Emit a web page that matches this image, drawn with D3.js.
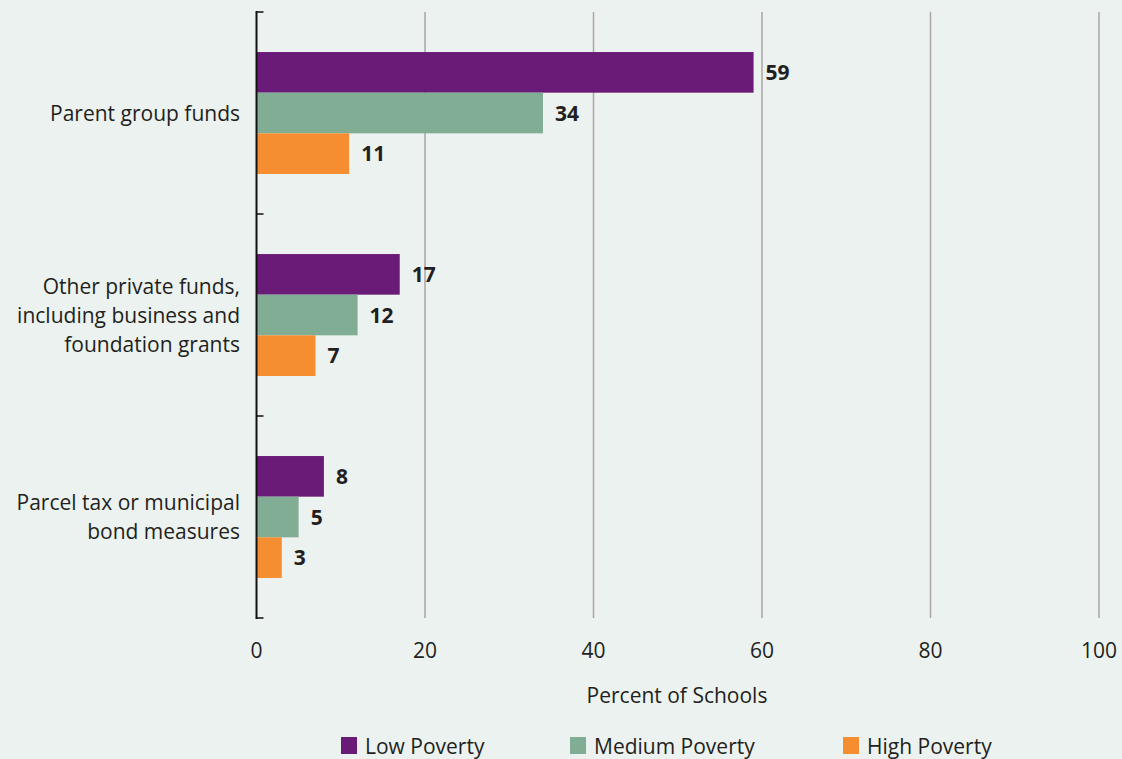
<!DOCTYPE html>
<html><head><meta charset="utf-8">
<script src="https://cdn.jsdelivr.net/npm/d3@7"></script>
<style>
html,body{margin:0;padding:0;background:#ecf2ef;}
svg{display:block;font-family:"Open Sans","Noto Sans",sans-serif;}
</style></head>
<body><svg id="c" width="1122" height="759"></svg>
<script>
const categories = [["Parent group funds"], ["Other private funds,","including business and","foundation grants"], ["Parcel tax or municipal","bond measures"]];
const seriesNames = ["Low Poverty", "Medium Poverty", "High Poverty"];
const lowPoverty = [59, 17, 8];
const mediumPoverty = [34, 12, 5];
const highPoverty = [11, 7, 3];
const xTicks = [0, 20, 40, 60, 80, 100];
const colors = ["#6a1b77", "#80ad94", "#f58d31"];

const series = [lowPoverty, mediumPoverty, highPoverty];
const svg = d3.select("#c");
const FS = 21;
const m = {left: 256.5, right: 1099, top: 12, bottom: 618};
const x = d3.scaleLinear().domain([0, 100]).range([m.left, m.right]);
const y = d3.scaleBand().domain(d3.range(categories.length)).range([m.top, m.bottom]).paddingInner(0).paddingOuter(0);
const inner = d3.scaleBand().domain(d3.range(series.length)).range([0, y.bandwidth()]).paddingOuter(0.985).paddingInner(0);

// gridlines
svg.append("g").selectAll("line").data(xTicks.slice(1)).join("line")
  .attr("x1", d => x(d)).attr("x2", d => x(d)).attr("y1", m.top).attr("y2", m.bottom)
  .attr("stroke", "#aaa6a5").attr("stroke-width", 1.5);

// bars
categories.forEach((c, i) => {
  series.forEach((s, j) => {
    const y0 = y(i) + inner(j);
    svg.append("rect").attr("x", x(0)).attr("y", y0).attr("width", x(s[i]) - x(0)).attr("height", inner.bandwidth())
      .attr("fill", colors[j]);
    svg.append("text").attr("x", x(s[i]) + 12).attr("y", y0 + inner.bandwidth()/2).attr("dy", "0.36em")
      .attr("font-size", FS).attr("font-weight", 700).attr("fill", "#231f20").text(s[i]);
  });
  const t = svg.append("text").attr("text-anchor", "end").attr("font-size", FS).attr("fill", "#231f20");
  const n = c.length, lh = 29;
  c.forEach((line, k) => {
    t.append("tspan").attr("x", 240).attr("y", y(i) + y.bandwidth()/2 + (k - (n-1)/2) * lh).attr("dy", "0.36em").text(line);
  });
});

// y axis
const ya = svg.append("g").attr("transform", `translate(${m.left},0)`);
ya.append("line").attr("x1", 0).attr("x2", 0).attr("y1", m.top - 1).attr("y2", m.bottom + 1).attr("stroke", "#111").attr("stroke-width", 2);
const yTicks = d3.range(categories.length + 1).map(i => i === categories.length ? m.bottom : y(i));
ya.selectAll("line.t").data(yTicks).join("line").attr("class", "t")
  .attr("x1", 0).attr("x2", 7).attr("y1", d => d).attr("y2", d => d).attr("stroke", "#111").attr("stroke-width", 1.5);

// x tick labels
svg.append("g").selectAll("text").data(xTicks).join("text")
  .attr("x", d => x(d)).attr("y", 650).attr("dy", "0.36em").attr("text-anchor", "middle")
  .attr("font-size", FS).attr("fill", "#231f20").text(d => d);

svg.append("text").attr("x", 677).attr("y", 695).attr("dy", "0.36em").attr("text-anchor", "middle")
  .attr("font-size", FS).attr("fill", "#231f20").text("Percent of Schools");

// legend
const legX = [341, 570, 843];
seriesNames.forEach((nme, j) => {
  svg.append("rect").attr("x", legX[j]).attr("y", 737).attr("width", 16).attr("height", 17).attr("fill", colors[j]);
  svg.append("text").attr("x", legX[j] + 24).attr("y", 746).attr("dy", "0.36em").attr("font-size", FS)
    .attr("fill", "#231f20").text(nme);
});
</script></body></html>
